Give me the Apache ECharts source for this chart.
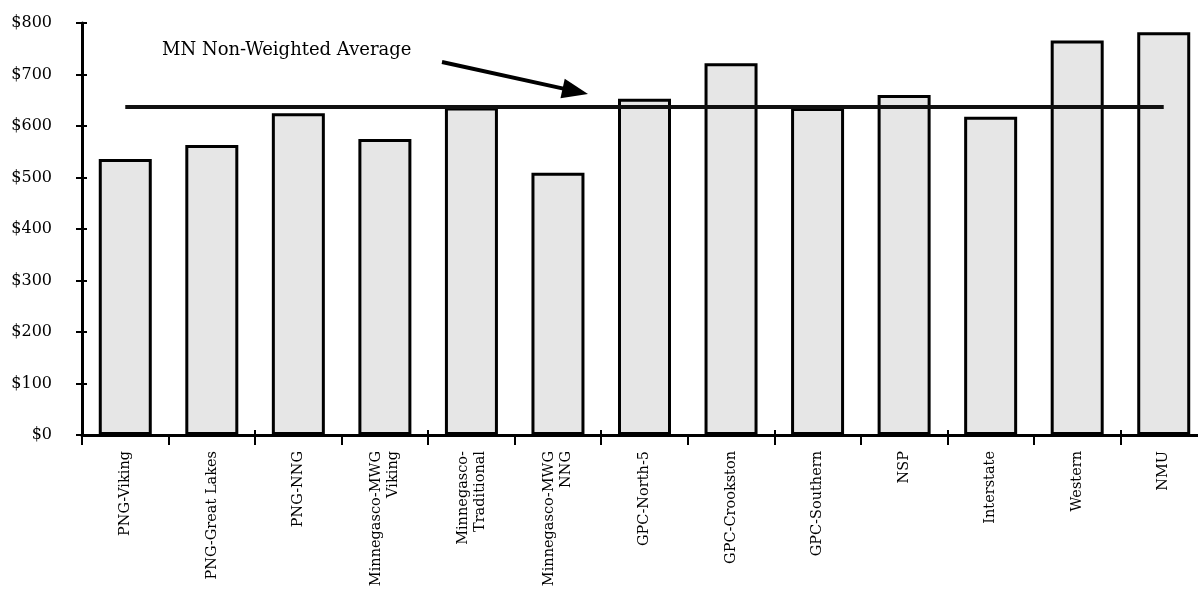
<!DOCTYPE html>
<html>
<head>
<meta charset="utf-8">
<script src="https://cdn.jsdelivr.net/npm/echarts@6/dist/echarts.min.js"></script>
<style>
  html, body { margin: 0; padding: 0; background: #fff; }
  #chart { width: 1198px; height: 592px; }
</style>
</head>
<body>
<div id="chart"></div>
<script>
// categories and values
var categories = [
  'PNG-Viking', 'PNG-Great Lakes', 'PNG-NNG', 'Minnegasco-MWG\nViking',
  'Minnegasco-\nTraditional', 'Minnegasco-MWG\nNNG', 'GPC-North-5',
  'GPC-Crookston', 'GPC-Southern', 'NSP', 'Interstate', 'Western', 'NMU'
];
var costs = [536, 563, 625, 575, 636, 509, 653, 722, 635, 660, 618, 766, 782];
var averageValue = 638;
var averageLabel = 'MN Non-Weighted Average';
var yTicks = [0, 100, 200, 300, 400, 500, 600, 700, 800];

var chart = echarts.init(document.getElementById('chart'));
var font = '"DejaVu Serif", "Liberation Serif", serif';

chart.setOption({
  animation: false,
  backgroundColor: '#fff',
  grid: { left: 82, top: 23, width: 1125, height: 412, containLabel: false, outerBoundsMode: 'none' },
  xAxis: [{
    type: 'category',
    data: categories,
    axisLine: { lineStyle: { color: '#000', width: 3 } },
    axisTick: { show: true, length: 10, lineStyle: { color: '#000', width: 2 } },
    axisLabel: {
      rotate: 90, interval: 0, margin: 16,
      color: '#000', fontFamily: font, fontSize: 14.5, lineHeight: 17
    }
  }, {
    // second copy only to make the ticks cross the axis line
    type: 'category',
    data: categories,
    position: 'bottom',
    axisLine: { show: false },
    axisTick: { show: true, inside: true, length: 5, lineStyle: { color: '#000', width: 2 } },
    axisLabel: { show: false }
  }],
  yAxis: [{
    type: 'value',
    min: 0, max: 800, interval: 100,
    splitLine: { show: false },
    axisLine: { show: true, lineStyle: { color: '#000', width: 3 } },
    axisTick: { show: true, length: 6, lineStyle: { color: '#000', width: 2 } },
    axisLabel: {
      margin: 30, color: '#000', fontFamily: font, fontSize: 16,
      formatter: function (v) { return yTicks.indexOf(v) >= 0 ? '$' + v : ''; }
    }
  }, {
    type: 'value',
    min: 0, max: 800, interval: 100,
    position: 'left',
    splitLine: { show: false },
    axisLine: { show: false },
    axisTick: { show: true, inside: true, length: 5, lineStyle: { color: '#000', width: 2 } },
    axisLabel: { show: false }
  }],
  series: [{
    type: 'bar',
    data: costs,
    barWidth: 53,
    itemStyle: { color: '#e6e6e6', borderColor: '#000', borderWidth: 3 },
    markLine: {
      silent: true,
      symbol: ['none', 'none'],
      label: { show: false },
      lineStyle: { color: '#111', width: 4, type: 'solid' },
      data: [[
        { coord: [categories[0], averageValue] },
        { coord: [categories[categories.length - 1], averageValue] }
      ]]
    }
  }]
});

// annotation text and arrow pointing at the average line
var start = [442, 62], tip = [588, 94];
var dx = tip[0] - start[0], dy = tip[1] - start[1];
var len = Math.sqrt(dx * dx + dy * dy);
var ux = dx / len, uy = dy / len;
var headLen = 26, headHalf = 10;
var bx = tip[0] - ux * headLen, by = tip[1] - uy * headLen;

chart.setOption({
  graphic: [{
    type: 'text',
    left: 162, top: 41,
    style: { text: averageLabel, font: '18px ' + font, fill: '#000' }
  }, {
    type: 'line',
    shape: { x1: start[0], y1: start[1], x2: bx + ux * 2, y2: by + uy * 2 },
    style: { stroke: '#000', lineWidth: 4 }
  }, {
    type: 'polygon',
    shape: { points: [tip, [bx - uy * headHalf, by + ux * headHalf], [bx + uy * headHalf, by - ux * headHalf]] },
    style: { fill: '#000' }
  }]
});
</script>
</body>
</html>
